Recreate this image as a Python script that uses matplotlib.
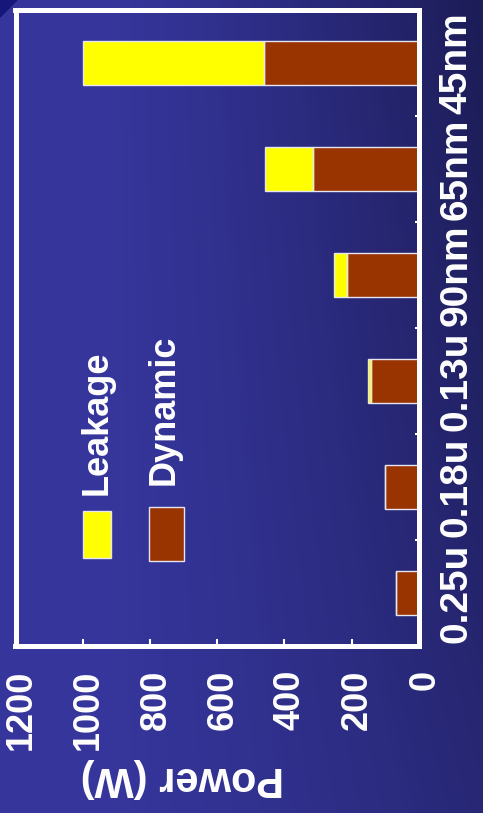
import numpy as np
import matplotlib
matplotlib.use("Agg")
import matplotlib.pyplot as plt
from matplotlib.patches import Rectangle, Polygon
from matplotlib.transforms import ScaledTranslation

# Data daya per node teknologi
categories = ['0.25u', '0.18u', '0.13u', '90nm', '65nm', '45nm']
dynamic = [67, 100, 143, 214, 315, 460]
leakage = [0.5, 1, 10, 38, 143, 540]
power_ticks = [0, 200, 400, 600, 800, 1000, 1200]

W, H = 483, 813
plt.rcParams['font.family'] = ['Liberation Sans', 'DejaVu Sans']
plt.rcParams['font.weight'] = 'bold'

fig = plt.figure(figsize=(W / 100, H / 100), dpi=100)

# Latar belakang gradasi biru
bg = fig.add_axes([0, 0, 1, 1])
yy, xx = np.mgrid[0:H, 0:W]
t = np.clip((xx - 100) / 380, 0, 1) ** 1.3 * (0.55 + 0.45 * (1 - yy / H))
light = np.array([0.21, 0.21, 0.61])
dark = np.array([0.11, 0.11, 0.34])
img = light[None, None, :] * (1 - t[..., None]) + dark[None, None, :] * t[..., None]
bg.imshow(img, extent=[0, W, H, 0], aspect='auto')
bg.add_patch(Polygon([[0, 0], [17, 0], [0, 17]], closed=True, color='#15157a'))
bg.set_xlim(0, W)
bg.set_ylim(H, 0)
bg.axis('off')

# Sumbu utama (grafik diputar: nilai ke kiri, kategori ke atas)
ax = fig.add_axes([15.5 / W, 1 - 646 / H, (419 - 15.5) / W, 636 / H])
ax.set_facecolor('none')
idx = np.arange(len(categories))
ax.barh(idx, dynamic, height=0.41, color='#993300', edgecolor='#e6e6f2', linewidth=1)
ax.barh(idx, leakage, left=dynamic, height=0.41, color='#ffff00', edgecolor='#e6e6f2', linewidth=1)
ax.set_xlim(1200, 0)
ax.set_ylim(-0.5, 5.5)

for s in ax.spines.values():
    s.set_color('white')
    s.set_linewidth(3.6)

ax.set_xticks(power_ticks)
ax.set_xticklabels([str(v) for v in power_ticks], rotation=90, fontsize=26,
                   fontweight='bold', color='white')
ax.tick_params(axis='x', direction='in', length=5, width=1.5, color='white', pad=17)
for lbl in ax.get_xticklabels():
    lbl.set_transform(lbl.get_transform() + ScaledTranslation(6 / 100, 0, fig.dpi_scale_trans))

ax.yaxis.tick_right()
ax.set_yticks(idx)
ax.set_yticklabels(categories, rotation=90, va='center', fontsize=28,
                   fontweight='bold', color='white')
ax.set_yticks(idx[:-1] + 0.5, minor=True)
ax.tick_params(axis='y', which='major', length=0, pad=14)
ax.tick_params(axis='y', which='minor', direction='in', length=3, width=1.5, color='white')

# Judul sumbu (terbalik)
fig.text(182 / W, 1 - 778 / H, 'Power (W)', rotation=180, ha='center', va='center',
         fontsize=30, fontweight='bold', color='white')

# Legenda manual
fig.patches.append(Rectangle((83 / W, 1 - 558 / H), 28 / W, 47 / H, transform=fig.transFigure,
                             facecolor='#ffff00', edgecolor='#e6e6f2', linewidth=1))
fig.patches.append(Rectangle((149 / W, 1 - 561 / H), 35 / W, 54 / H, transform=fig.transFigure,
                             facecolor='#993300', edgecolor='#e6e6f2', linewidth=1))
fig.text(97 / W, 1 - 495 / H, 'Leakage', rotation=90, ha='center', va='bottom',
         fontsize=26, fontweight='bold', color='white')
fig.text(164 / W, 1 - 485 / H, 'Dynamic', rotation=90, ha='center', va='bottom',
         fontsize=26, fontweight='bold', color='white')

fig.savefig('out.png', dpi=100)
